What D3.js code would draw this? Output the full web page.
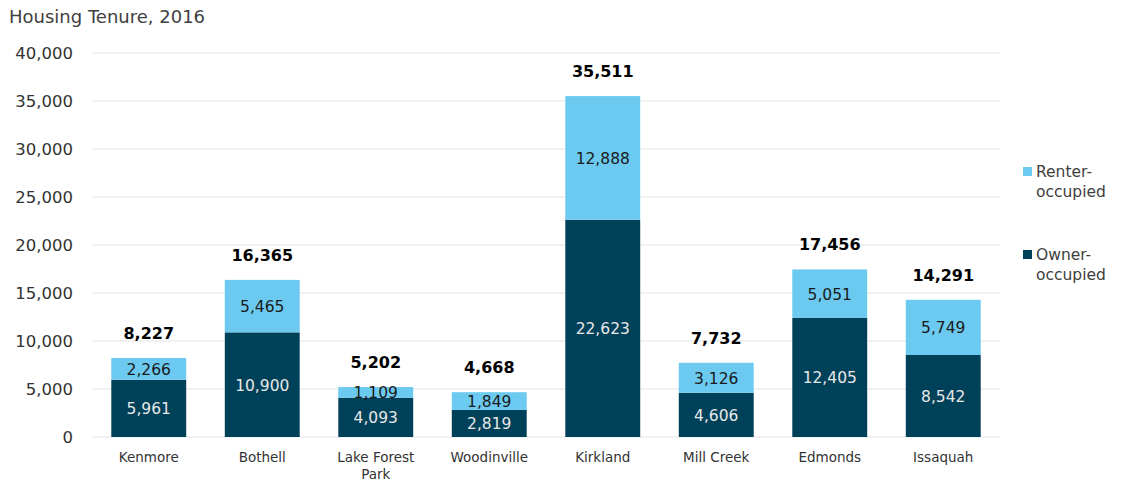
<!DOCTYPE html>
<html>
<head>
<meta charset="utf-8">
<script src="https://cdn.jsdelivr.net/npm/d3@7"></script>
<style>
  body { margin: 0; background: #fff; }
  svg text { font-family: "DejaVu Sans", sans-serif; }
</style>
</head>
<body>
<svg id="chart" width="1124" height="482"></svg>
<script>
const cities = ["Kenmore", "Bothell", "Lake Forest Park", "Woodinville", "Kirkland", "Mill Creek", "Edmonds", "Issaquah"];
const ownerOccupied = [5961, 10900, 4093, 2819, 22623, 4606, 12405, 8542];
const renterOccupied = [2266, 5465, 1109, 1849, 12888, 3126, 5051, 5749];
const totals = [8227, 16365, 5202, 4668, 35511, 7732, 17456, 14291];
const yTicks = [0, 5000, 10000, 15000, 20000, 25000, 30000, 35000, 40000];

const colors = { owner: "#00415a", renter: "#6ccaf0" };
const svg = d3.select("#chart");
const margin = { left: 92, right: 124, top: 53, bottom: 45 };
const W = 1124, H = 482;

const x = d3.scaleBand().domain(cities).range([margin.left, W - margin.right]).paddingInner(0.34).paddingOuter(0.17);
const y = d3.scaleLinear().domain([0, 40000]).range([H - margin.bottom, margin.top]);
const fmt = d3.format(",");

// title
svg.append("text").attr("x", 9).attr("y", 23).attr("font-size", 18).attr("fill", "#404040").text("Housing Tenure, 2016");

// gridlines
svg.append("g").selectAll("line").data(yTicks).join("line")
  .attr("x1", margin.left).attr("x2", W - margin.right)
  .attr("y1", d => y(d)).attr("y2", d => y(d))
  .attr("stroke", "#e3e3e3").attr("stroke-width", 1.2);

// y axis labels
const yAxis = d3.axisLeft(y).tickValues(yTicks).tickFormat(fmt).tickSize(0).tickPadding(19);
const ya = svg.append("g").attr("transform", `translate(${margin.left},0)`).call(yAxis);
ya.select(".domain").remove();
ya.selectAll("text").attr("font-size", 16.5).attr("fill", "#333").attr("font-family", "DejaVu Sans, sans-serif");

// stacked bars
const rows = cities.map((c, i) => ({ city: c, owner: ownerOccupied[i], renter: renterOccupied[i], total: totals[i] }));
const stack = d3.stack().keys(["owner", "renter"])(rows);
const g = svg.append("g");
stack.forEach(layer => {
  g.append("g").selectAll("rect").data(layer).join("rect")
    .attr("x", d => x(d.data.city))
    .attr("width", x.bandwidth())
    .attr("y", d => y(d[1]))
    .attr("height", d => y(d[0]) - y(d[1]))
    .attr("fill", colors[layer.key]);
  g.append("g").selectAll("text").data(layer).join("text")
    .attr("x", d => x(d.data.city) + x.bandwidth() / 2)
    .attr("y", d => (y(d[0]) + y(d[1])) / 2 + 6)
    .attr("text-anchor", "middle")
    .attr("font-size", 15.5)
    .attr("fill", layer.key === "owner" ? "#e8e8e8" : "#1a1a1a")
    .text(d => fmt(d.data[layer.key]));
});

// totals
g.append("g").selectAll("text").data(rows).join("text")
  .attr("x", d => x(d.city) + x.bandwidth() / 2)
  .attr("y", d => y(d.total) - 19)
  .attr("text-anchor", "middle")
  .attr("font-size", 16).attr("font-weight", "bold").attr("fill", "#000")
  .text(d => fmt(d.total));

// category labels
const xa = svg.append("g");
cities.forEach(c => {
  const t = xa.append("text").attr("x", x(c) + x.bandwidth() / 2).attr("y", 462)
    .attr("text-anchor", "middle").attr("font-size", 13.5).attr("fill", "#333");
  if (c === "Lake Forest Park") {
    t.append("tspan").attr("x", x(c) + x.bandwidth() / 2).text("Lake Forest");
    t.append("tspan").attr("x", x(c) + x.bandwidth() / 2).attr("dy", 17).text("Park");
  } else {
    t.text(c);
  }
});

// legend
const legend = [
  { key: "renter", lines: ["Renter-", "occupied"], y: 167 },
  { key: "owner", lines: ["Owner-", "occupied"], y: 250 }
];
const lg = svg.append("g");
legend.forEach(l => {
  lg.append("rect").attr("x", 1023).attr("y", l.y).attr("width", 9).attr("height", 9).attr("fill", colors[l.key]);
  const t = lg.append("text").attr("x", 1036).attr("y", l.y + 10).attr("font-size", 15.5).attr("fill", "#404040");
  t.append("tspan").attr("x", 1036).text(l.lines[0]);
  t.append("tspan").attr("x", 1036).attr("dy", 20).text(l.lines[1]);
});
</script>
</body>
</html>
